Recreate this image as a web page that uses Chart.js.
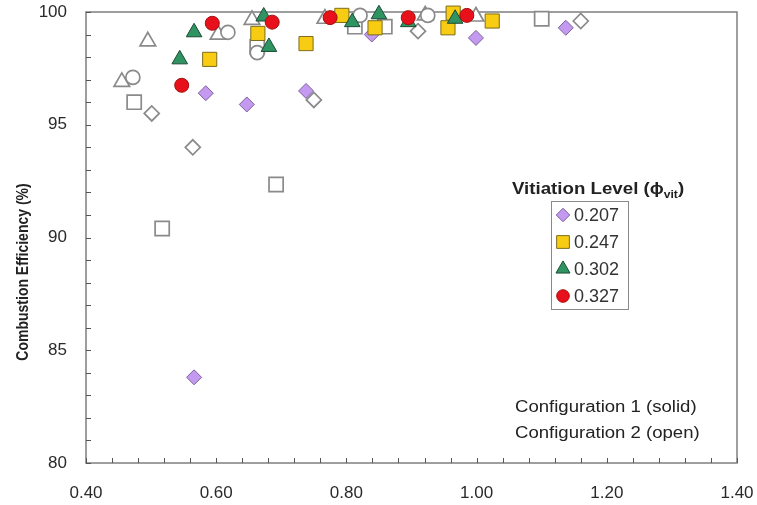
<!DOCTYPE html>
<html>
<head>
<meta charset="utf-8">
<script src="https://cdn.jsdelivr.net/npm/chart.js@4.4.1/dist/chart.umd.min.js"></script>
<style>
  html, body { margin: 0; padding: 0; background: #fff; }
  #wrap { width: 757px; height: 505px; }
</style>
</head>
<body>
<div id="wrap"><canvas id="chart" width="757" height="505"></canvas></div>
<script>
// Configuration 1 (solid) - vitiation levels
const solid207X = [0.584, 0.647, 0.738, 0.566, 0.839, 0.999, 1.137, 0.965];
const solid207Y = [96.4, 95.9, 96.5, 83.8, 99.0, 98.85, 99.3, 99.9];
const solid247X = [0.590, 0.664, 0.738, 0.793, 0.844, 0.956, 0.964, 1.024];
const solid247Y = [97.9, 99.05, 98.6, 99.85, 99.3, 99.3, 99.95, 99.6];
const solid302X = [0.544, 0.566, 0.681, 0.673, 0.809, 0.850, 0.967, 0.895];
const solid302Y = [97.9, 99.1, 98.45, 99.8, 99.55, 99.9, 99.7, 99.55];
const solid327X = [0.547, 0.594, 0.686, 0.775, 0.895, 0.985];
const solid327Y = [96.75, 99.5, 99.55, 99.75, 99.75, 99.85];

// Configuration 2 (open)
const open207X = [0.501, 0.564, 0.750, 0.910, 1.160];
const open207Y = [95.5, 94.0, 96.1, 99.15, 99.6];
const open247X = [0.474, 0.517, 0.692, 0.663, 0.813, 0.859, 1.100];
const open247Y = [96.0, 90.4, 92.35, 98.45, 99.35, 99.35, 99.7];
const open302X = [0.455, 0.495, 0.603, 0.655, 0.767, 0.921, 0.999];
const open302Y = [96.9, 98.7, 99.0, 99.65, 99.7, 99.85, 99.8];
const open327X = [0.472, 0.618, 0.663, 0.821, 0.925];
const open327Y = [97.1, 99.1, 98.2, 99.85, 99.85];

const levels = ['0.207', '0.247', '0.302', '0.327'];
const xTickLabels = ['0.40', '0.60', '0.80', '1.00', '1.20', '1.40'];
const yTickLabels = ['80', '85', '90', '95', '100'];

function pts(xs, ys) {
  return xs.map((x, i) => ({ x: x, y: ys[i] }));
}

const styles = {
  '0.207': { shape: 'rectRot', fill: '#c39af0', border: '#7e5f9c', radius: 7.5 },
  '0.247': { shape: 'rect', fill: '#f7cc12', border: '#7d6d1c', radius: 10 },
  '0.302': { shape: 'triangle', fill: '#2f9462', border: '#1b4a33', radius: 9 },
  '0.327': { shape: 'circle', fill: '#e8101a', border: '#a01010', radius: 7 }
};

function ds(label, data, level, open) {
  const s = styles[level];
  return {
    label: label,
    data: data,
    pointStyle: s.shape,
    pointRadius: s.radius,
    pointHoverRadius: s.radius,
    pointBackgroundColor: open ? '#ffffff' : s.fill,
    pointBorderColor: open ? '#8a8a8a' : s.border,
    pointBorderWidth: open ? 1.7 : 1,
    showLine: false,
    clip: false
  };
}

// first dataset is drawn on top
const datasets = [
  ds('0.327', pts(solid327X, solid327Y), '0.327', false),
  ds('0.302', pts(solid302X, solid302Y), '0.302', false),
  ds('0.247', pts(solid247X, solid247Y), '0.247', false),
  ds('0.207', pts(solid207X, solid207Y), '0.207', false),
  ds('open 0.327', pts(open327X, open327Y), '0.327', true),
  ds('open 0.302', pts(open302X, open302Y), '0.302', true),
  ds('open 0.247', pts(open247X, open247Y), '0.247', true),
  ds('open 0.207', pts(open207X, open207Y), '0.207', true)
];

// the source picture is a little stretched sideways, so text gets a x-scale
function wideText(ctx, text, x, y, sx) {
  ctx.save();
  ctx.translate(x, y);
  ctx.scale(sx, 1);
  ctx.fillText(text, 0, 0);
  ctx.restore();
}

// frame, inside tick marks, legend box and notes
const decorations = {
  id: 'decorations',
  beforeDatasetsDraw(chart) {
    const ctx = chart.ctx;
    const a = chart.chartArea;
    const xs = chart.scales.x;
    const ys = chart.scales.y;
    ctx.save();
    ctx.strokeStyle = '#7f7f7f';
    ctx.lineWidth = 1.5;
    ctx.strokeRect(a.left, a.top, a.right - a.left, a.bottom - a.top);
    ctx.lineWidth = 1;
    ctx.strokeStyle = '#555';
    ctx.beginPath();
    xs.ticks.forEach(t => {
      const px = Math.round(xs.getPixelForValue(t.value)) + 0.5;
      ctx.moveTo(px, a.bottom);
      ctx.lineTo(px, a.bottom - 5);
    });
    ys.ticks.forEach(t => {
      const py = Math.round(ys.getPixelForValue(t.value)) + 0.5;
      ctx.moveTo(a.left, py);
      ctx.lineTo(a.left + 5, py);
    });
    ctx.stroke();

    // y axis title
    ctx.translate(23, 272);
    ctx.rotate(-Math.PI / 2);
    ctx.scale(1, 1.2);
    ctx.fillStyle = '#222';
    ctx.font = 'bold 14px "Liberation Sans", Arial, sans-serif';
    ctx.textAlign = 'center';
    ctx.textBaseline = 'middle';
    ctx.fillText('Combustion Efficiency (%)', 0, 0);
    ctx.restore();
  },
  afterDraw(chart) {
    const ctx = chart.ctx;
    ctx.save();
    // legend title with subscript
    ctx.fillStyle = '#222';
    ctx.textBaseline = 'alphabetic';
    ctx.textAlign = 'left';
    const sx = 1.1;
    const big = 'bold 17px "Liberation Sans", Arial, sans-serif';
    const small = 'bold 11px "Liberation Sans", Arial, sans-serif';
    const parts = [['Vitiation Level (\u03d5', big, 0], ['vit', small, 4], [')', big, 0]];
    let w = 0;
    parts.forEach(p => { ctx.font = p[1]; w += ctx.measureText(p[0]).width * sx; });
    let tx = 598 - w / 2;
    parts.forEach(p => {
      ctx.font = p[1];
      wideText(ctx, p[0], tx, 194 + p[2], sx);
      tx += ctx.measureText(p[0]).width * sx;
    });

    // legend box
    ctx.strokeStyle = '#8a8a8a';
    ctx.lineWidth = 1;
    ctx.strokeRect(551.5, 201.5, 77, 108);
    ctx.font = '18px "Liberation Sans", Arial, sans-serif';
    ctx.textBaseline = 'middle';
    levels.forEach((lv, i) => {
      const s = styles[lv];
      const y = 215 + i * 27;
      ctx.fillStyle = s.fill;
      ctx.strokeStyle = s.border;
      ctx.lineWidth = 1;
      Chart.helpers.drawPoint(ctx, { pointStyle: s.shape, radius: s.radius * 0.9, borderWidth: 1, rotation: 0 }, 563, y);
      ctx.fillStyle = '#333';
      ctx.fillText(lv, 574, y + 1);
    });

    // configuration notes
    ctx.font = '16px "Liberation Sans", Arial, sans-serif';
    ctx.fillStyle = '#222';
    wideText(ctx, 'Configuration 1 (solid)', 515, 408, 1.16);
    wideText(ctx, 'Configuration 2 (open)', 515, 434, 1.16);
    ctx.restore();
  }
};

const tickFont = { family: '"Liberation Sans", Arial, sans-serif', size: 17 };

new Chart(document.getElementById('chart'), {
  type: 'scatter',
  data: { datasets: datasets },
  options: {
    responsive: false,
    animation: false,
    layout: { padding: { left: 0, right: 20, top: 12, bottom: 0 } },
    plugins: {
      legend: { display: false },
      tooltip: { enabled: false }
    },
    scales: {
      x: {
        type: 'linear',
        min: 0.4,
        max: 1.4,
        border: { display: false },
        grid: { display: false, drawTicks: false },
        afterFit(scale) {
          scale.height = 42;
          scale.paddingLeft = 0;
          scale.paddingRight = 0;
        },
        afterBuildTicks(scale) {
          const t = [];
          for (let i = 0; i <= 25; i++) t.push({ value: 0.4 + i * 0.04 });
          scale.ticks = t;
        },
        ticks: {
          padding: 20,
          color: '#2a2a2a',
          font: tickFont,
          autoSkip: false,
          maxRotation: 0,
          callback(v) {
            const k = Math.round((v - 0.4) / 0.2);
            if (Math.abs(v - (0.4 + k * 0.2)) < 1e-6) return xTickLabels[k];
            return '';
          }
        }
      },
      y: {
        type: 'linear',
        min: 80,
        max: 100,
        border: { display: false },
        grid: { display: false, drawTicks: false },
        afterFit(scale) {
          scale.width = 86;
          scale.paddingTop = 0;
          scale.paddingBottom = 0;
        },
        ticks: {
          stepSize: 1,
          padding: 19,
          color: '#2a2a2a',
          font: tickFont,
          autoSkip: false,
          callback(v) {
            if (v % 5 === 0) return yTickLabels[(v - 80) / 5];
            return '';
          }
        }
      }
    }
  },
  plugins: [decorations]
});
</script>
</body>
</html>
